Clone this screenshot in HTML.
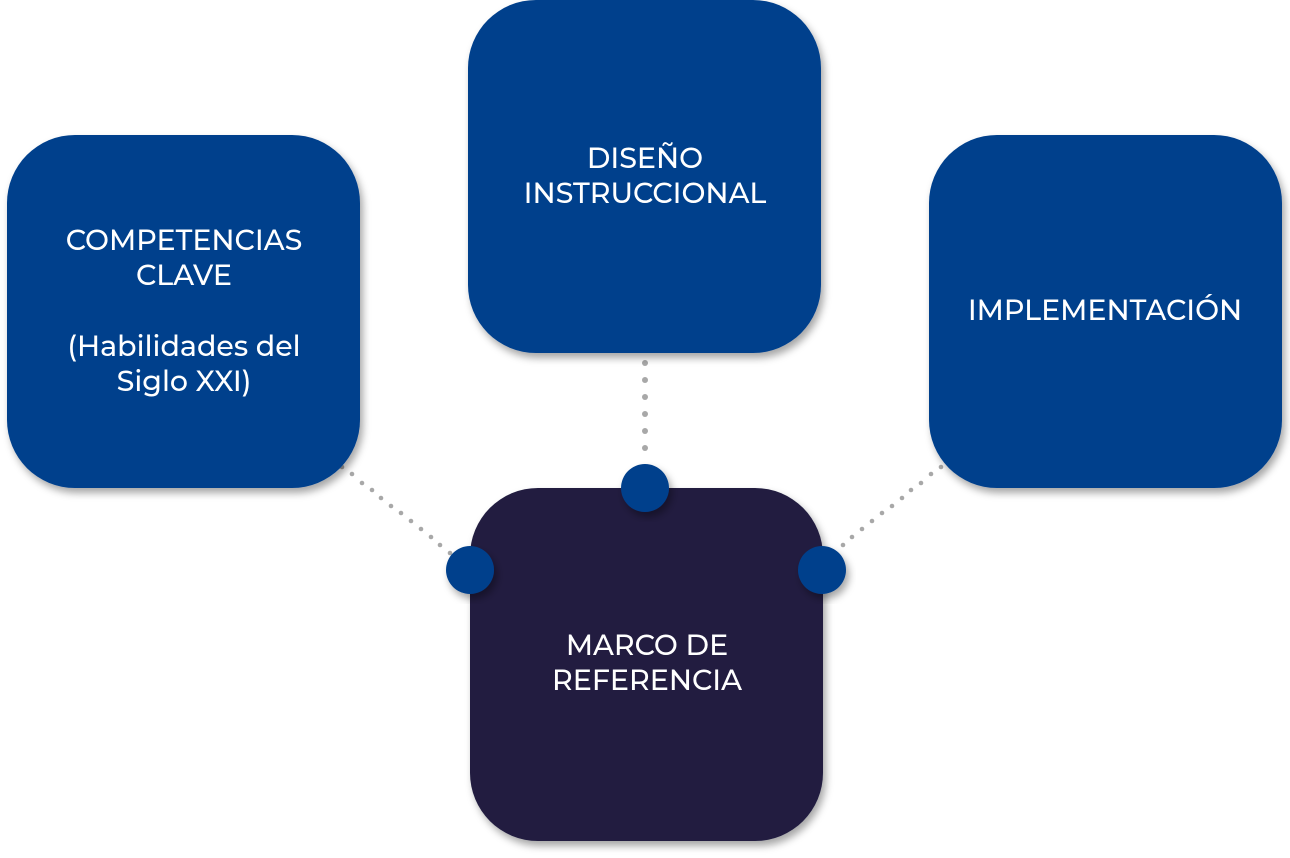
<!DOCTYPE html>
<html><head><meta charset="utf-8"><style>
html,body{margin:0;padding:0;background:#fff;width:1290px;height:858px;overflow:hidden}
svg{display:block}
text{font-family:"Montserrat","Liberation Sans",sans-serif;font-size:28.5px;font-weight:500;fill:#fff;text-anchor:middle}
</style></head><body>
<svg width="1290" height="858" viewBox="0 0 1290 858">
<defs>
<filter id="sh" x="-20%" y="-20%" width="140%" height="140%">
<feDropShadow dx="3" dy="5" stdDeviation="4" flood-color="#000" flood-opacity="0.35"/>
</filter>
</defs>
<g fill="#a8a8a8">
<circle cx="645" cy="363" r="3"/><circle cx="645" cy="380" r="3"/><circle cx="645" cy="397" r="3"/><circle cx="645" cy="414" r="3"/><circle cx="645" cy="431" r="3"/><circle cx="645" cy="448" r="3"/>
<circle cx="342" cy="467" r="2.3"/><circle cx="352" cy="474" r="2.3"/><circle cx="362" cy="483" r="2.3"/><circle cx="372" cy="490" r="2.3"/><circle cx="381" cy="498" r="2.3"/><circle cx="391" cy="506" r="2.3"/><circle cx="401" cy="513" r="2.3"/><circle cx="411" cy="521" r="2.3"/><circle cx="421" cy="529" r="2.3"/><circle cx="431" cy="537" r="2.3"/><circle cx="440" cy="545" r="2.3"/><circle cx="450" cy="553" r="2.3"/>
<circle cx="941" cy="467" r="2.3"/><circle cx="931" cy="474" r="2.3"/><circle cx="921" cy="483" r="2.3"/><circle cx="911" cy="490" r="2.3"/><circle cx="902" cy="498" r="2.3"/><circle cx="892" cy="506" r="2.3"/><circle cx="882" cy="513" r="2.3"/><circle cx="872" cy="521" r="2.3"/><circle cx="862" cy="529" r="2.3"/><circle cx="852" cy="537" r="2.3"/><circle cx="843" cy="545" r="2.3"/>
</g>
<rect x="7" y="135" width="353" height="353" rx="68" fill="#02408c" filter="url(#sh)"/>
<rect x="468" y="0" width="353" height="353" rx="68" fill="#02408c" filter="url(#sh)"/>
<rect x="929" y="135" width="353" height="353" rx="68" fill="#02408c" filter="url(#sh)"/>
<rect x="470" y="488" width="353" height="353" rx="68" fill="#201f41" filter="url(#sh)"/>
<circle cx="645" cy="488" r="24" fill="#02408c" filter="url(#sh)"/>
<circle cx="470" cy="570" r="24" fill="#02408c" filter="url(#sh)"/>
<circle cx="822" cy="570" r="24" fill="#02408c" filter="url(#sh)"/>
<text x="184" y="250">COMPETENCIAS</text>
<text x="184" y="285">CLAVE</text>
<text x="184" y="356">(Habilidades del</text>
<text x="184" y="391">Siglo XXI)</text>
<text x="645" y="168">DISEÑO</text>
<text x="645" y="203">INSTRUCCIONAL</text>
<text x="1105" y="320">IMPLEMENTACIÓN</text>
<text x="647" y="655">MARCO DE</text>
<text x="647" y="690">REFERENCIA</text>
</svg>
</body></html>
